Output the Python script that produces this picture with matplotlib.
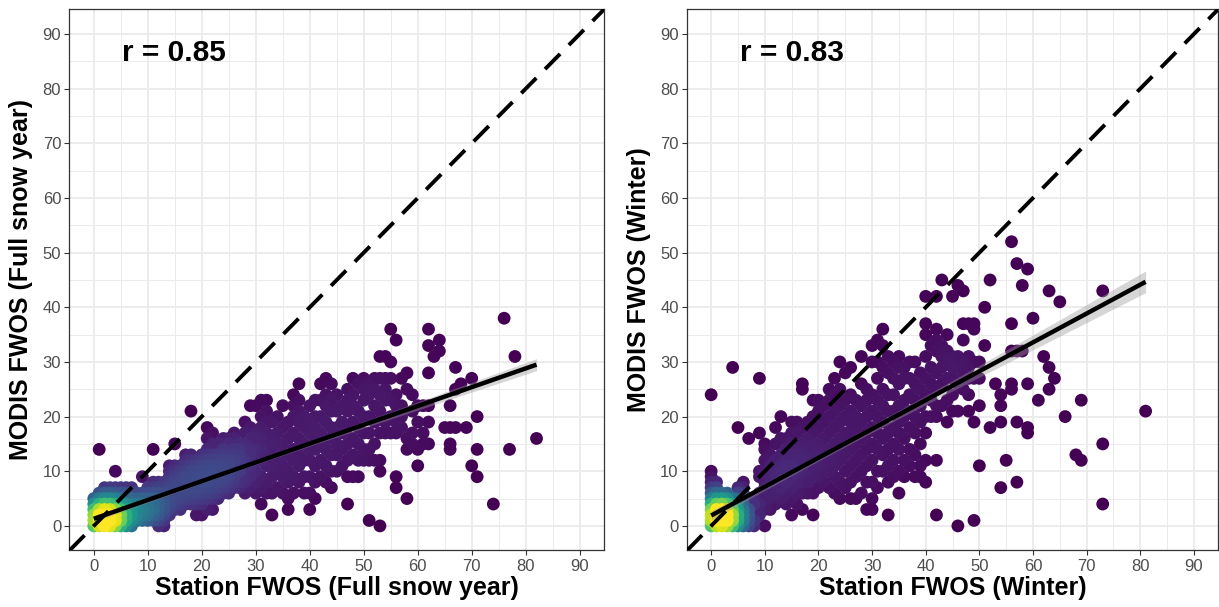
import numpy as np
import matplotlib
matplotlib.use("Agg")
import matplotlib.pyplot as plt
from matplotlib.ticker import MultipleLocator

plt.rcParams['font.family'] = ['Liberation Sans', 'DejaVu Sans']

# --- data (FWOS, days) ---
# near the origin many station-years sit on the same spot: (station, modis, count)
full_stack = [
    (0, 0, 10), (1, 0, 10), (2, 0, 9), (3, 0, 8), (4, 0, 6), (5, 0, 4), (6, 0, 3), (7, 0, 2),
    (0, 1, 10), (1, 1, 10), (2, 1, 9), (3, 1, 7), (4, 1, 5), (5, 1, 4), (6, 1, 3), (7, 1, 2),
    (0, 2, 6), (1, 2, 7), (2, 2, 6), (3, 2, 5), (4, 2, 4), (5, 2, 3), (6, 2, 2), (7, 2, 2),
    (0, 3, 4), (1, 3, 4), (2, 3, 3), (3, 3, 3), (4, 3, 2), (5, 3, 2), (6, 3, 2), (7, 3, 1),
    (0, 4, 2), (1, 4, 3), (2, 4, 2), (3, 4, 2), (4, 4, 1), (5, 4, 2), (6, 4, 1), (7, 4, 1),
    (0, 5, 2), (1, 5, 2), (2, 5, 2), (3, 5, 1), (4, 5, 1), (5, 5, 1), (6, 5, 1), (7, 5, 1),
    (1, 6, 1), (2, 6, 1), (3, 6, 1), (4, 6, 1), (5, 6, 1), (6, 6, 1), (7, 6, 1),
    (2, 7, 1), (3, 7, 1), (4, 7, 1), (5, 7, 1), (6, 7, 1), (7, 7, 1),
    (8, 1, 2), (8, 2, 2), (8, 3, 2), (9, 2, 2), (9, 3, 2), (10, 2, 2), (10, 3, 2),
    (10, 4, 2), (11, 3, 2), (11, 4, 1), (12, 2, 1), (12, 3, 1),
]
# the rest, one entry per station value: (station, [modis values])
full_cols = [
    (1, [14]), (4, [10]),
    (8, [1, 2, 3, 4, 5, 6]),
    (9, [1, 2, 3, 4, 5, 6, 9]),
    (10, [1, 2, 3, 4, 5, 6, 7]),
    (11, [1, 2, 3, 4, 5, 6, 7, 8, 14]),
    (12, [0, 1, 2, 3, 4, 5, 6, 7, 8]),
    (13, [0, 1, 2, 3, 4, 5, 6, 7, 8]),
    (14, [2, 3, 4, 5, 6, 7, 8, 9, 10, 11]),
    (15, [3, 4, 5, 6, 7, 8, 9, 10, 11, 15]),
    (16, [3, 4, 5, 6, 7, 8, 9, 10, 11]),
    (17, [4, 5, 6, 7, 8, 9, 10, 11, 12, 13]),
    (18, [4, 5, 6, 7, 8, 9, 10, 11, 12, 13, 21]),
    (19, [2, 4, 5, 6, 7, 8, 9, 10, 11, 12]),
    (20, [2, 4, 5, 6, 7, 8, 9, 10, 11, 12, 13]),
    (21, [3, 5, 6, 7, 8, 9, 10, 11, 12, 13, 14, 16, 18]),
    (22, [3, 5, 6, 7, 8, 9, 10, 11, 12, 13, 15, 17]),
    (23, [5, 6, 7, 8, 9, 10, 11, 12, 13, 15]),
    (24, [6, 7, 8, 9, 10, 11, 12, 13, 14, 16]),
    (25, [6, 7, 8, 9, 10, 11, 12, 13, 15, 16]),
    (26, [7, 8, 9, 10, 11, 12, 13, 14, 16, 17]),
    (27, [7, 8, 10, 11, 12, 13, 14, 15]),
    (28, [6, 8, 9, 11, 12, 14, 15, 17, 19]),
    (29, [7, 9, 11, 13, 14, 16, 18, 22]),
    (30, [6, 8, 10, 12, 14, 16, 17, 22]),
    (31, [4, 7, 9, 12, 14, 16, 18, 20, 23]),
    (32, [6, 8, 11, 13, 15, 17, 19, 21, 23]),
    (33, [2, 6, 9, 11, 14, 16, 19]),
    (34, [7, 10, 12, 15, 17, 20]),
    (35, [6, 9, 11, 13, 15, 18, 22]),
    (36, [3, 5, 8, 10, 13, 16, 19]),
    (37, [6, 9, 12, 14, 17, 20, 22, 24]),
    (38, [8, 11, 13, 16, 19, 21, 23, 26]),
    (39, [6, 9, 12, 15, 18, 20]),
    (40, [3, 6, 9, 12, 14, 17, 19, 22]),
    (41, [5, 8, 11, 14, 16, 18, 20, 23]),
    (42, [9, 12, 15, 17, 20, 23, 26]),
    (43, [8, 11, 14, 16, 19, 22, 24, 27]),
    (44, [7, 10, 13, 16, 18, 21, 23, 26]),
    (45, [10, 13, 15, 18, 21, 24]),
    (46, [11, 14, 17, 19, 22]),
    (47, [4, 9, 12, 15, 18, 21, 23, 25]),
    (48, [9, 13, 16, 19, 22, 24, 27]),
    (49, [9, 12, 15, 18, 21, 26]),
    (50, [12, 14, 17, 20, 23, 25, 27]),
    (51, [1, 12, 14, 17, 20, 24, 26]),
    (52, [12, 15, 19, 22, 25, 27]),
    (53, [0, 10, 12, 17, 21, 24, 27, 31]),
    (54, [17, 19, 23, 25, 27, 31]),
    (55, [17, 20, 23, 27, 30, 36]),
    (56, [7, 9, 17, 19, 22, 24, 34]),
    (57, [18, 20, 22, 27]),
    (58, [5, 14, 16, 25, 28]),
    (59, [15, 17, 21, 24]),
    (60, [11, 14, 19, 22]),
    (61, [15, 17, 22]),
    (62, [15, 19, 22, 28, 33, 36]),
    (63, [31]), (64, [32, 34]), (65, [18]),
    (66, [14, 15, 18, 22]), (67, [18, 25, 29]), (68, [26]), (69, [18]),
    (70, [11, 27]), (71, [9, 14, 20]), (74, [4]), (76, [38]),
    (77, [14]), (78, [31]), (82, [16]),
]

winter_stack = [
    (0, 0, 10), (1, 0, 10), (2, 0, 9), (3, 0, 7), (4, 0, 5), (5, 0, 3), (6, 0, 2), (7, 0, 1), (8, 0, 1),
    (0, 1, 10), (1, 1, 10), (2, 1, 9), (3, 1, 7), (4, 1, 5), (5, 1, 3), (6, 1, 2), (7, 1, 1), (8, 1, 1),
    (0, 2, 9), (1, 2, 9), (2, 2, 8), (3, 2, 6), (4, 2, 4), (5, 2, 3), (6, 2, 2), (7, 2, 1),
    (0, 3, 6), (1, 3, 6), (2, 3, 5), (3, 3, 4), (4, 3, 3), (5, 3, 2), (6, 3, 1), (7, 3, 1),
    (0, 4, 4), (1, 4, 4), (2, 4, 3), (3, 4, 2), (4, 4, 2), (5, 4, 1), (6, 4, 1), (8, 4, 1),
    (0, 5, 3), (1, 5, 3), (2, 5, 2), (3, 5, 2), (4, 5, 1), (5, 5, 1), (6, 5, 1), (8, 5, 1),
    (0, 6, 2), (1, 6, 2), (2, 6, 1), (3, 6, 1), (5, 6, 1), (6, 6, 1),
    (0, 7, 1), (1, 7, 1), (5, 7, 1), (6, 7, 1),
    (0, 8, 1), (1, 8, 1), (6, 8, 1), (0, 9, 1), (0, 10, 1),
]
winter_cols = [
    (0, [24]), (4, [29]), (5, [18]), (7, [16]),
    (9, [2, 4, 6, 9, 10, 17, 27]),
    (10, [0, 3, 5, 7, 8, 10, 12, 14, 15]),
    (11, [3, 5, 6, 8, 9, 11, 13]),
    (12, [4, 6, 8, 9, 10, 12, 15, 18]),
    (13, [5, 7, 9, 10, 11, 13, 16, 20]),
    (14, [4, 6, 8, 10, 11, 12, 14, 16]),
    (15, [2, 5, 7, 9, 10, 11, 13, 15, 17, 19]),
    (16, [4, 6, 8, 10, 12, 13, 14, 17, 19]),
    (17, [3, 6, 8, 10, 12, 13, 15, 18, 25, 26]),
    (18, [6, 8, 10, 12, 14, 16, 19]),
    (19, [2, 6, 9, 11, 13, 15, 17, 20, 23]),
    (20, [7, 9, 11, 13, 15, 18, 21, 23]),
    (21, [8, 10, 12, 14, 16, 19, 22]),
    (22, [7, 10, 12, 14, 17, 20, 23, 25]),
    (23, [6, 9, 11, 13, 15, 18, 21, 24, 27]),
    (24, [5, 8, 12, 14, 16, 19, 22, 25, 30]),
    (25, [7, 10, 13, 15, 17, 20, 23, 28]),
    (26, [5, 8, 11, 14, 17, 19, 21, 24, 29]),
    (27, [5, 9, 12, 15, 18, 20, 23]),
    (28, [6, 10, 13, 16, 19, 22, 26, 31]),
    (29, [3, 8, 11, 14, 17, 20, 23, 25]),
    (30, [3, 5, 8, 12, 15, 18, 21, 24, 30, 33]),
    (31, [7, 10, 14, 17, 20, 23, 27, 30, 34]),
    (32, [10, 13, 16, 19, 22, 25, 29, 33, 36]),
    (33, [2, 8, 11, 14, 17, 21, 24, 28, 31]),
    (34, [9, 12, 15, 18, 21, 24, 27, 30]),
    (35, [6, 10, 14, 17, 19, 22, 26, 29, 31]),
    (36, [9, 12, 16, 20, 23, 27, 29]),
    (37, [11, 14, 18, 21, 24, 27, 30]),
    (38, [9, 13, 17, 20, 23, 26, 30]),
    (39, [9, 11, 15, 19, 22, 25, 28]),
    (40, [8, 12, 17, 20, 24, 27, 31, 35, 37, 42]),
    (41, [20, 23, 26, 29, 33]),
    (42, [2, 12, 20, 22, 25, 28, 32, 34, 36, 42]),
    (43, [22, 26, 29, 31, 33, 45]),
    (44, [19, 23, 27, 30, 32, 35]),
    (45, [21, 24, 27, 29, 31, 42]),
    (46, [0, 21, 26, 29, 31, 44]),
    (47, [25, 28, 30, 34, 37, 43]),
    (48, [21, 24, 27, 29, 31, 37]),
    (49, [1, 19, 27, 30, 36, 37]),
    (50, [11, 22, 27, 30]),
    (51, [33, 40]), (52, [18, 45]), (53, [26]),
    (54, [7, 19, 22, 24]), (55, [12]),
    (56, [25, 26, 32, 37, 52]), (57, [8, 19, 32, 48]),
    (58, [32, 44]), (59, [17, 18, 26, 47]), (60, [38]),
    (61, [23]), (62, [31]), (63, [25, 29, 43]), (64, [27]),
    (65, [41]), (66, [20]), (68, [13]), (69, [12, 23]),
    (73, [4, 15, 43]), (81, [21]),
]

# fitted lines as drawn in the figure: (intercept, slope)
fit_full = (1.3, 0.344)
fit_winter = (1.9, 0.528)

r_values = [0.85, 0.83]
x_titles = ["Station FWOS (Full snow year)", "Station FWOS (Winter)"]
y_titles = ["MODIS FWOS (Full snow year)", "MODIS FWOS (Winter)"]


def expand(stack, cols):
    xs, ys, ws = [], [], []
    for x, y, n in stack:
        xs.append(x); ys.append(y); ws.append(n)
    for x, yl in cols:
        for y in yl:
            xs.append(x); ys.append(y); ws.append(1)
    return np.array(xs, float), np.array(ys, float), np.array(ws, float)


def draw_panel(ax, stack, cols, fit, r, xlab, ylab):
    x, y, w = expand(stack, cols)

    # point density (smoothed neighbour count, like geom_pointdensity)
    d2 = (x[:, None] - x[None, :]) ** 2 + (y[:, None] - y[None, :]) ** 2
    dens = (np.exp(-d2 / (2 * 2.2 ** 2)) * w[None, :]).sum(axis=1) ** 1.25
    order = np.argsort(dens)
    ax.scatter(x[order], y[order], c=dens[order], cmap="viridis",
               vmin=dens.min(), vmax=0.85 * dens.max(), s=85, linewidths=0, zorder=3)

    # regression line with 95% band
    xa = np.repeat(x, w.astype(int))
    ya = np.repeat(y, w.astype(int))
    a, b = fit
    n = len(xa)
    s = np.sqrt(((ya - (a + b * xa)) ** 2).sum() / (n - 2))
    xx = np.linspace(xa.min(), xa.max(), 100)
    se = s * np.sqrt(1 / n + (xx - xa.mean()) ** 2 / ((xa - xa.mean()) ** 2).sum())
    yy = a + b * xx
    ax.fill_between(xx, yy - 1.96 * se, yy + 1.96 * se, color="#999999", alpha=0.4,
                    linewidth=0, zorder=4)
    ax.plot(xx, yy, color="black", lw=3.2, zorder=5, solid_capstyle="butt")

    # 1:1 line
    ax.axline((0, 0), slope=1, color="black", lw=2.8, ls=(0, (5.5, 3.2)), zorder=5)

    ax.text(5.3, 86.5, f"r = {r:.2f}", fontsize=21.5, fontweight="bold", va="center")

    ax.set_xlim(-4.5, 94.5)
    ax.set_ylim(-4.5, 94.5)
    for axis in (ax.xaxis, ax.yaxis):
        axis.set_major_locator(MultipleLocator(10))
        axis.set_minor_locator(MultipleLocator(5))
    ax.grid(which="major", color="#ebebeb", lw=1.3, zorder=0)
    ax.grid(which="minor", color="#ebebeb", lw=0.7, zorder=0)
    ax.set_axisbelow(True)
    ax.tick_params(which="major", length=3.5, width=0.8, color="#333333",
                   labelsize=12, labelcolor="#4d4d4d", pad=2.5)
    ax.tick_params(which="minor", length=0)
    for sp in ax.spines.values():
        sp.set_color("#333333")
        sp.set_linewidth(0.9)

    ax.set_xlabel(xlab, fontsize=18, fontweight="bold")
    ax.set_ylabel(ylab, fontsize=18, fontweight="bold")
    ax.xaxis.set_label_coords(0.5, -0.048)
    ax.yaxis.set_label_coords(-0.068, 0.5)


fig = plt.figure(figsize=(12.19, 6.07), dpi=100)
ax1 = fig.add_axes([0.0570, 0.0931, 0.4385, 0.8913])
ax2 = fig.add_axes([0.5636, 0.0931, 0.4356, 0.8913])

draw_panel(ax1, full_stack, full_cols, fit_full, r_values[0], x_titles[0], y_titles[0])
draw_panel(ax2, winter_stack, winter_cols, fit_winter, r_values[1], x_titles[1], y_titles[1])

fig.savefig("out.png", dpi=100)
